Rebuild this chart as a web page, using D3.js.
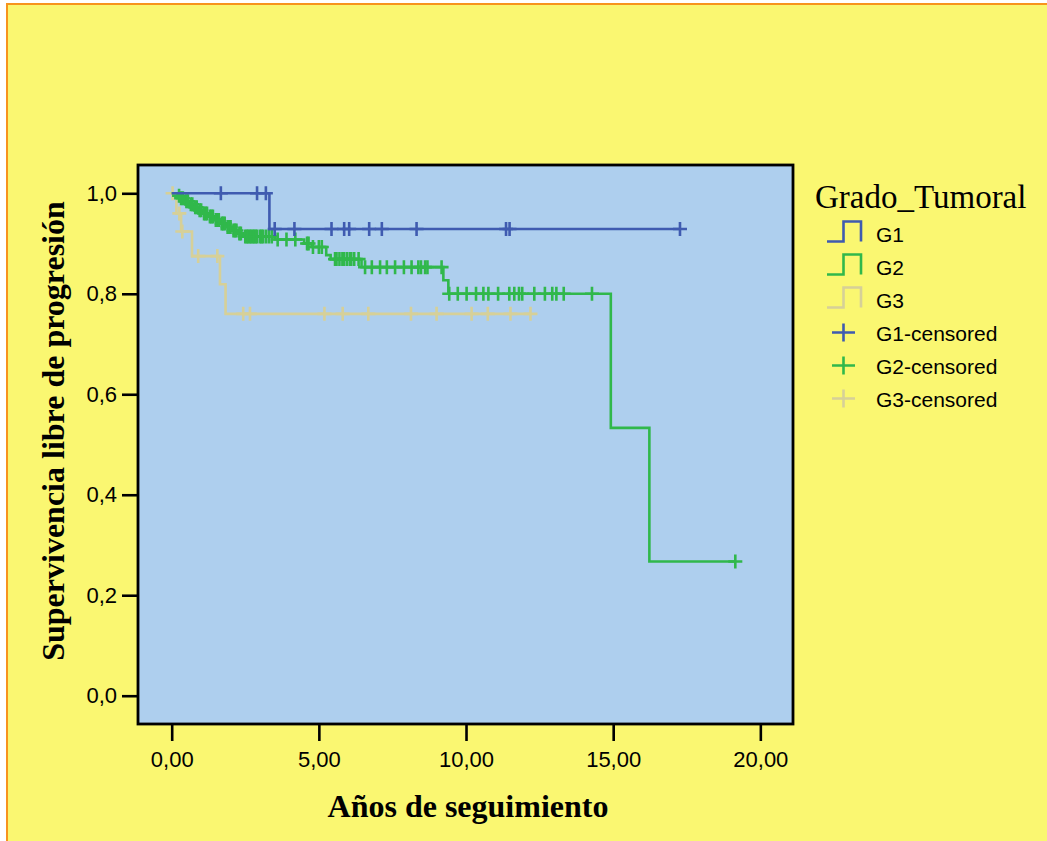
<!DOCTYPE html>
<html>
<head>
<meta charset="utf-8">
<script src="https://cdn.jsdelivr.net/npm/d3@7"></script>
<style>
  html, body { margin: 0; padding: 0; background: #ffffff; }
  svg { display: block; }
</style>
</head>
<body>
<svg id="chart" width="1047" height="841"></svg>
<script>
// Kaplan–Meier curves: progression-free survival by tumour grade

const groups = ["G1", "G2", "G3"];
const groupColors = ["#3f5bb0", "#30b84b", "#d6d098"];

// Event times (years) and survival level after each event
const g1EventTimes = [3.32];
const g1Survival   = [0.929];
const g1Censored   = [1.67, 2.90, 3.20, 3.50, 4.17, 5.43, 5.86, 6.03, 6.71, 7.14, 8.32, 11.36, 11.48, 17.27];

const g2EventTimes = [0.20, 0.30, 0.45, 0.60, 0.75, 0.90, 1.05, 1.25, 1.45, 1.65, 1.85, 2.05, 2.25, 2.45,
                      3.50, 4.50, 4.75, 5.25, 5.40, 6.45, 9.23, 9.40, 14.92, 16.23];
const g2Survival   = [0.995, 0.990, 0.984, 0.978, 0.972, 0.966, 0.960, 0.954, 0.947, 0.940, 0.933, 0.926, 0.920, 0.914,
                      0.908, 0.900, 0.893, 0.877, 0.869, 0.853, 0.827, 0.800, 0.533, 0.267];
const g2Censored   = [0.25, 0.32, 0.38, 0.50, 0.55, 0.65, 0.70, 0.80, 0.85, 0.95, 1.00, 1.10, 1.15, 1.20, 1.30,
                      1.35, 1.40, 1.50, 1.55, 1.60, 1.70, 1.75, 1.80, 1.90, 1.95, 2.00, 2.10, 2.15, 2.20, 2.30,
                      2.35, 2.50, 2.55, 2.60, 2.65, 2.70, 2.75, 2.80, 2.85, 2.90, 3.00, 3.05, 3.10, 3.20, 3.30,
                      3.40, 3.60, 3.90, 4.20, 4.60, 4.65, 4.80, 5.00, 5.10, 5.55, 5.60, 5.70, 5.80, 5.85, 5.95,
                      6.05, 6.10, 6.20, 6.35,
                      6.57, 6.80, 7.08, 7.31, 7.59, 7.89, 8.15, 8.38, 8.47, 8.61, 8.69, 9.17,
                      9.43, 9.72, 10.02, 10.34, 10.59, 10.76, 11.09, 11.47, 11.64, 11.80, 11.91, 12.32, 12.68,
                      12.93, 13.07, 13.32, 14.28, 19.15];

const g3EventTimes = [0.16, 0.32, 0.69, 1.64, 1.83];
const g3Survival   = [0.960, 0.924, 0.875, 0.819, 0.760];
const g3Censored   = [0.03, 0.26, 0.36, 0.90, 1.55, 2.43, 2.66, 5.19, 5.81, 6.68, 8.13, 9.00, 10.19, 10.74, 11.51, 12.19];

const xTicks = [0, 5, 10, 15, 20];
const yTicks = [0, 0.2, 0.4, 0.6, 0.8, 1.0];

const xTitle = "Años de seguimiento";
const yTitle = "Supervivencia libre de progresión";
const legendTitle = "Grado_Tumoral";
const legendLabels = ["G1", "G2", "G3", "G1-censored", "G2-censored", "G3-censored"];

const series = [
  { events: g1EventTimes, surv: g1Survival, cens: g1Censored },
  { events: g2EventTimes, surv: g2Survival, cens: g2Censored },
  { events: g3EventTimes, surv: g3Survival, cens: g3Censored }
];

// ---- layout ----
const svg = d3.select("#chart");
const plot = { left: 138, top: 165, right: 793, bottom: 724 };

const x = d3.scaleLinear().domain([-1.145, 21.11]).range([plot.left, plot.right]);
const y = d3.scaleLinear().domain([-0.0563, 1.0563]).range([plot.bottom, plot.top]);

const loc = d3.formatLocale({ decimal: ",", thousands: ".", grouping: [3], currency: ["", ""] });

// page background with frame
svg.append("rect")
  .attr("x", 7).attr("y", 4).attr("width", 1100).attr("height", 900)
  .attr("fill", "#faf771").attr("stroke", "#f7941d").attr("stroke-width", 2);

// plot area
svg.append("rect")
  .attr("x", plot.left).attr("y", plot.top)
  .attr("width", plot.right - plot.left).attr("height", plot.bottom - plot.top)
  .attr("fill", "#aecfee");

// survival level at time t (right-continuous step)
function survAt(s, t) {
  let v = 1;
  for (let i = 0; i < s.events.length; i++) if (s.events[i] <= t) v = s.surv[i];
  return v;
}

const line = d3.line().x(d => x(d[0])).y(d => y(d[1])).curve(d3.curveStepAfter);
const curves = svg.append("g");

// draw G3 first, G1 last so blue sits on top
[2, 1, 0].forEach(gi => {
  const s = series[gi];
  const lastT = Math.max(d3.max(s.events), d3.max(s.cens));
  const pts = [[0, 1]];
  s.events.forEach((t, i) => pts.push([t, s.surv[i]]));
  pts.push([lastT, survAt(s, lastT)]);
  curves.append("path")
    .attr("d", line(pts))
    .attr("fill", "none")
    .attr("stroke", groupColors[gi])
    .attr("stroke-width", 2.6);
  const marks = curves.append("g");
  s.cens.forEach(t => {
    const cx = x(t), cy = y(survAt(s, t));
    marks.append("path")
      .attr("d", `M${cx - 7},${cy}H${cx + 7}M${cx},${cy - 7}V${cy + 7}`)
      .attr("stroke", groupColors[gi])
      .attr("stroke-width", 2.6)
      .attr("fill", "none");
  });
});

// plot frame
svg.append("rect")
  .attr("x", plot.left).attr("y", plot.top)
  .attr("width", plot.right - plot.left).attr("height", plot.bottom - plot.top)
  .attr("fill", "none").attr("stroke", "#000").attr("stroke-width", 2.8);

// axes
const yAxis = d3.axisLeft(y).tickValues(yTicks).tickFormat(loc.format(".1f")).tickSize(16).tickPadding(5);
const gy = svg.append("g").attr("transform", `translate(${plot.left},0)`).call(yAxis);
const xAxis = d3.axisBottom(x).tickValues(xTicks).tickFormat(loc.format(".2f")).tickSize(17).tickPadding(10);
const gx = svg.append("g").attr("transform", `translate(0,${plot.bottom})`).call(xAxis);

[gx, gy].forEach(g => {
  g.select(".domain").remove();
  g.selectAll(".tick line").attr("stroke", "#000").attr("stroke-width", 2.6);
  g.selectAll(".tick text")
    .attr("fill", "#000")
    .style("font-family", "'Liberation Sans', Arial, sans-serif")
    .style("font-size", "22px");
});

// axis titles
svg.append("text")
  .attr("x", 468).attr("y", 817)
  .attr("text-anchor", "middle")
  .style("font-family", "'Liberation Serif', 'Times New Roman', serif")
  .style("font-weight", "bold").style("font-size", "32px")
  .text(xTitle);

svg.append("text")
  .attr("transform", "translate(64,431) rotate(-90)")
  .attr("text-anchor", "middle")
  .style("font-family", "'Liberation Serif', 'Times New Roman', serif")
  .style("font-weight", "bold").style("font-size", "32px")
  .text(yTitle);

// legend
const lg = svg.append("g");
lg.append("text")
  .attr("x", 815).attr("y", 208)
  .style("font-family", "'Liberation Serif', 'Times New Roman', serif")
  .style("font-size", "33px")
  .text(legendTitle);

legendLabels.forEach((lab, i) => {
  const base = 241.5 + 33 * i;
  const col = groupColors[i % 3];
  if (i < 3) {
    lg.append("path")
      .attr("d", `M827,${base}H843.5V${base - 20}H861V${base}`)
      .attr("fill", "none").attr("stroke", col).attr("stroke-width", 2.6);
  } else {
    const cy = base - 8;
    lg.append("path")
      .attr("d", `M832,${cy}H855M843.5,${cy - 9}V${cy + 9}`)
      .attr("fill", "none").attr("stroke", col).attr("stroke-width", 2.6);
  }
  lg.append("text")
    .attr("x", 876).attr("y", base)
    .style("font-family", "'Liberation Sans', Arial, sans-serif")
    .style("font-size", "21px")
    .text(lab);
});
</script>
</body>
</html>
